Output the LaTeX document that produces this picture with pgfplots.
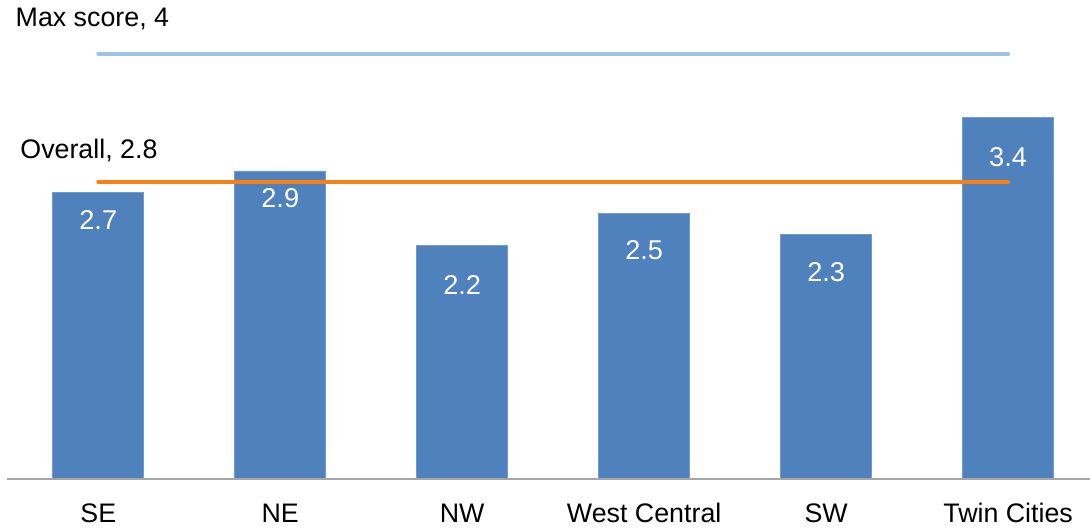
\documentclass[border=0pt]{standalone}
\usepackage{fontspec}
\setmainfont{Liberation Sans}
\usepackage{pgfplots}
\usepackage{pgfplotstable}
\pgfplotsset{compat=1.18}

\definecolor{barblue}{RGB}{79,129,189}
\definecolor{maxblue}{RGB}{157,195,230}
\definecolor{overorange}{RGB}{250,128,20}
\definecolor{axisgrey}{RGB}{166,166,166}

% x, score, label drop below bar top (pt)
\pgfplotstableread{
x  y    off
0  2.7  14
1  2.9  13.5
2  2.2  20
3  2.5  18.5
4  2.3  18.5
5  3.4  19.5
}\scores

\begin{document}
\begin{tikzpicture}
\begin{axis}[
    scale only axis,
    width=545pt, height=239.2pt,
    xmin=-0.54, xmax=5.45,
    ymin=0, ymax=4.5,
    axis lines=none,
    xtick=\empty, ytick=\empty,
    clip=false,
    font=\fontsize{13.4}{15}\selectfont,
]
\addplot[ybar, bar width=45.5pt, fill=barblue, draw=barblue!80!white, line width=0.3pt,
    visualization depends on=\thisrow{off} \as \off,
    nodes near coords,
    point meta=explicit symbolic,
    every node near coord/.style={anchor=center, text=white, yshift=-\off pt,
        font=\fontsize{13.6}{15}\selectfont},
] table[x=x, y=y, meta=y] {\scores};
% axis baseline
\addplot[axisgrey, line width=0.8pt] coordinates {(-0.5,0) (5.45,0)};
% reference lines
\addplot[maxblue, line width=2pt, line cap=round] coordinates {(0,4) (5,4)};
\addplot[overorange, line width=2pt, line cap=round] coordinates {(0,2.8) (5,2.8)};
\node[anchor=west, inner sep=0pt] at (axis cs:-0.456,4.33) {Max score, 4};
\node[anchor=west, inner sep=0pt] at (axis cs:-0.43,3.09) {Overall, 2.8};
% category labels
\foreach \i/\lab in {0/SE,1/NE,2/NW,3/West Central,4/SW,5/Twin Cities}{
    \edef\tmp{\noexpand\node[anchor=center, inner sep=0pt] at (axis cs:\i,0) [yshift=-17pt] {\lab};}
    \tmp
}
\coordinate (bl) at (rel axis cs:0,0);
\coordinate (tr) at (rel axis cs:1,1);
\end{axis}
\pgfresetboundingbox
\path (bl) ++(0,-24.3pt) rectangle ([yshift=0.4pt]tr);
\end{tikzpicture}
\end{document}
